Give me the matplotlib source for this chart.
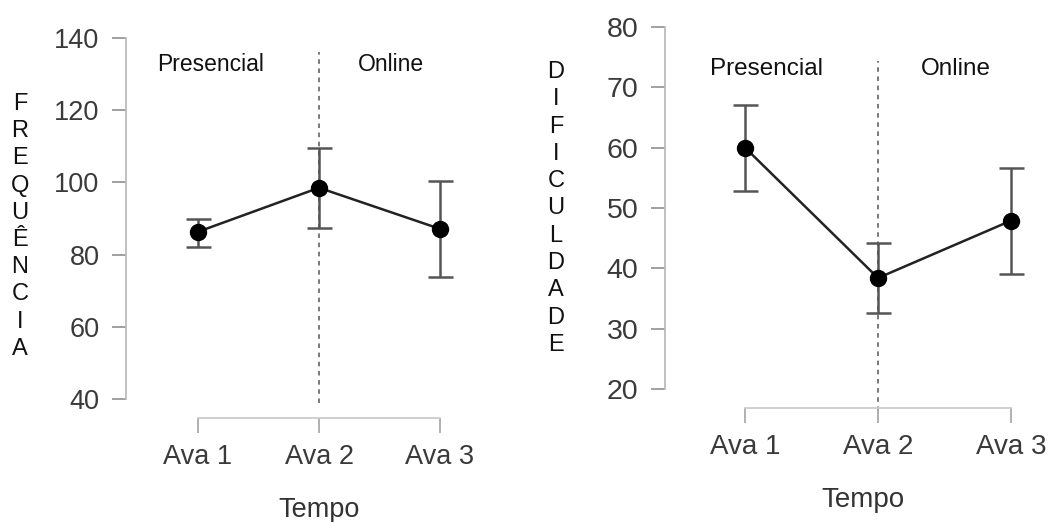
import matplotlib
matplotlib.use("Agg")
import matplotlib.pyplot as plt

plt.rcParams['font.family'] = ['Liberation Sans', 'DejaVu Sans']

categories = ["Ava 1", "Ava 2", "Ava 3"]

freq_mean = [86.3, 98.5, 87.1]
freq_upper = [89.9, 109.6, 100.4]
freq_lower = [82.2, 87.3, 73.9]

dif_mean = [60.0, 38.4, 47.9]
dif_upper = [67.1, 44.2, 56.7]
dif_lower = [52.8, 32.6, 39.1]

freq_yticks = [40, 60, 80, 100, 120, 140]
dif_yticks = [20, 30, 40, 50, 60, 70, 80]

W, H = 1061, 522
fig = plt.figure(figsize=(W / 100, H / 100), dpi=100)

def px_axes(l, t, r, b):
    return fig.add_axes([l / W, (H - b) / H, (r - l) / W, (b - t) / H])

def draw(ax, mean, upper, lower, yticks, xlim, ylim, vline_y, tick_fs, lab_fs,
         txt_y, txt_fs, txt_x, xlabelpad):
    x = list(range(len(categories)))
    ax.set_xlim(*xlim)
    ax.set_ylim(*ylim)
    yerr = [[m - lo for m, lo in zip(mean, lower)], [u - m for m, u in zip(mean, upper)]]
    ax.plot([1, 1], vline_y, ls=(0, (3, 3)), color='#555555', lw=1.1, zorder=1, clip_on=False)
    ax.errorbar(x, mean, yerr=yerr, fmt='none', ecolor='#555555', elinewidth=1.8,
                capsize=9, capthick=1.8, zorder=2, clip_on=False)
    ax.plot(x, mean, color='#222222', lw=1.8, marker='o', markersize=11.5,
            markerfacecolor='black', markeredgecolor='black', zorder=3, clip_on=False)
    for s in ['top', 'right']:
        ax.spines[s].set_visible(False)
    ax.spines['left'].set_bounds(yticks[0], yticks[-1])
    ax.spines['bottom'].set_bounds(0, len(categories) - 1)
    ax.spines['left'].set_color('#bbbbbb')
    ax.spines['bottom'].set_color('#cccccc')
    ax.spines['left'].set_linewidth(1.3)
    ax.spines['bottom'].set_linewidth(1.3)
    ax.set_yticks(yticks)
    ax.set_yticklabels([str(v) for v in yticks])
    ax.set_xticks(x)
    ax.set_xticklabels(categories)
    ax.tick_params(axis='y', length=10, width=1.3, color='#999999', labelcolor='#3a3a3a',
                   labelsize=tick_fs, pad=9)
    ax.tick_params(axis='x', length=11, width=1.3, color='#aaaaaa', labelcolor='#3a3a3a',
                   labelsize=lab_fs, pad=8)
    ax.patch.set_alpha(0)
    ax.set_xlabel("Tempo", fontsize=lab_fs, color='#333333', labelpad=xlabelpad)
    ax.text(txt_x[0], txt_y, "Presencial", fontsize=txt_fs, ha='center', va='center', color='#111111')
    ax.text(txt_x[1], txt_y, "Online", fontsize=txt_fs, ha='center', va='center', color='#111111')

# Left: FREQUÊNCIA
ax1 = px_axes(126, 38, 513, 418)
draw(ax1, freq_mean, freq_upper, freq_lower, freq_yticks,
     (-0.595, 2.603), (34.7, 140), (38.9, 136.2), 19.5, 19.5, 132.6, 16.5,
     (0.107, 1.595), 19)
# Right: DIFICULDADE
ax2 = px_axes(665, 27, 1061, 408)
draw(ax2, dif_mean, dif_upper, dif_lower, dif_yticks,
     (-0.602, 2.376), (16.85, 80), (16.3, 74.4), 20.5, 20, 73.1, 17.5,
     (0.158, 1.586), 19)

ylab1 = "FREQUÊNCIA"
ylab2 = "DIFICULDADE"
for i, ch in enumerate(ylab1):
    fig.text(20 / W, 1 - (104 + i * 27.2) / H, ch, fontsize=17, ha='center', va='center', color='#111111')
for i, ch in enumerate(ylab2):
    fig.text(556 / W, 1 - (72 + i * 27.3) / H, ch, fontsize=17, ha='center', va='center', color='#111111')

fig.savefig("out.png", dpi=100)
